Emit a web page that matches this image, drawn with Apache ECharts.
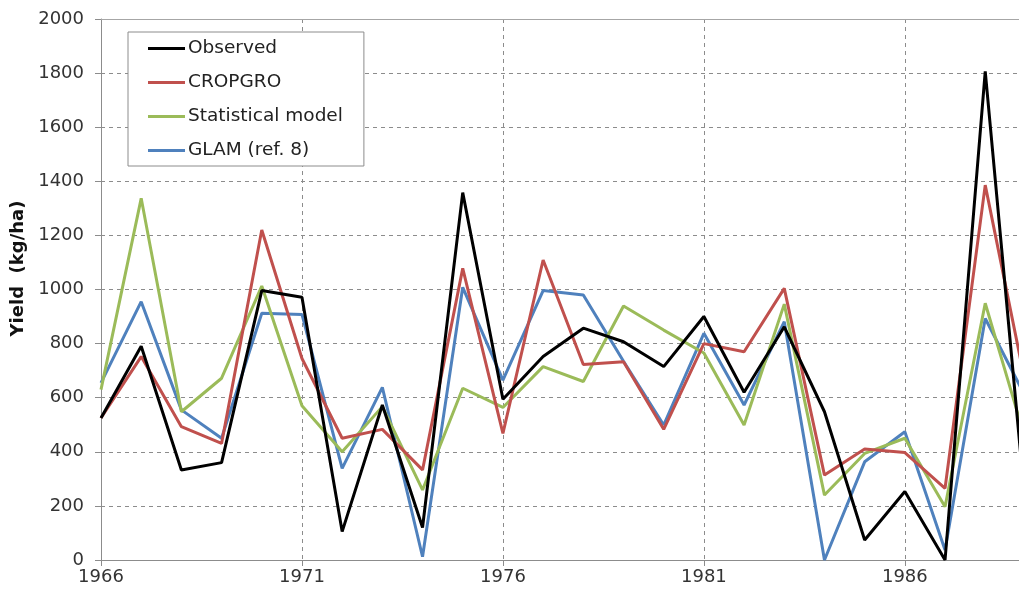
<!DOCTYPE html>
<html>
<head>
<meta charset="utf-8">
<script src="https://cdn.jsdelivr.net/npm/echarts@6/dist/echarts.min.js"></script>
<style>
html,body{margin:0;padding:0;background:#fff;}
#chart{width:1019px;height:594px;}
</style>
</head>
<body>
<div id="chart"></div>
<script>
const years = [1966,1967,1968,1969,1970,1971,1972,1973,1974,1975,1976,1977,1978,1979,1980,1981,1982,1983,1984,1985,1986,1987,1988,1989];
const observed    = [525, 790, 333, 360, 996, 971, 105, 573, 120, 1358, 594, 752, 857, 807, 715, 900, 620, 862, 548, 74, 253, 0, 1806, 200];
const cropgro     = [525, 752, 493, 431, 1220, 745, 450, 483, 333, 1078, 468, 1109, 723, 733, 483, 800, 770, 1004, 314, 410, 397, 265, 1386, 652];
const statistical = [630, 1337, 548, 672, 1013, 570, 400, 567, 259, 635, 564, 715, 660, 939, 850, 765, 499, 946, 240, 394, 450, 197, 949, 445];
const glam        = [655, 955, 555, 450, 912, 908, 339, 638, 12, 1008, 665, 996, 980, 735, 499, 838, 573, 881, 0, 363, 474, 37, 893, 604];
const seriesNames = ['Observed', 'CROPGRO', 'Statistical model', 'GLAM (ref. 8)'];
const seriesData = [observed, cropgro, statistical, glam];
const colors = ['#000000', '#c0504d', '#9bbb59', '#4f81bd'];
// visible x range: the original picture is cut off just before 1989
const xMin = 1966, xMax = 1988.84, xStep = 5;

const chart = echarts.init(document.getElementById('chart'));
const font = 'DejaVu Sans';
chart.setOption({
  animation: false,
  grid: {left: 101, top: 19, bottom: 34, right: 0},
  legend: {
    orient: 'vertical', left: 128, top: 32,
    backgroundColor: '#fff', borderColor: '#8c8c8c', borderWidth: 1,
    padding: [7, 21, 6, 20],
    itemGap: 15, itemWidth: 37, itemHeight: 3,
    icon: 'rect',
    textStyle: {fontFamily: font, fontSize: 18.5, color: '#222', padding: [0,0,0,-2]},
    data: seriesNames
  },
  xAxis: [{
    type: 'value', min: xMin, max: xMax, interval: xStep,
    axisLine: {show: true, lineStyle: {color: '#8c8c8c', width: 1}},
    axisTick: {show: true, length: 6, lineStyle: {color: '#8c8c8c'}},
    axisLabel: {fontFamily: font, fontSize: 18, color: '#333', margin: 8, showMaxLabel: false,
      formatter: v => (v % 1 === 0 ? String(v) : '')},
    splitLine: {show: true, lineStyle: {type: [4, 4], color: '#8c8c8c', width: 1}}
  }, {
    type: 'value', position: 'top', min: xMin, max: xMax, interval: xStep,
    axisLine: {show: true, lineStyle: {color: '#a6a6a6', width: 1}},
    axisTick: {show: false}, axisLabel: {show: false}, splitLine: {show: false}
  }],
  yAxis: {
    type: 'value', min: 0, max: 2000, interval: 200,
    name: 'Yield  (kg/ha)', nameLocation: 'middle', nameGap: 70, nameRotate: 90,
    nameTextStyle: {fontFamily: font, fontSize: 18, fontWeight: 'bold', color: '#111', padding: [0, 0, 0, 42]},
    axisLine: {show: true, lineStyle: {color: '#8c8c8c', width: 1}},
    axisTick: {show: true, length: 6, lineStyle: {color: '#8c8c8c'}},
    axisLabel: {fontFamily: font, fontSize: 18, color: '#333', margin: 17, formatter: v => String(v)},
    splitLine: {show: true, lineStyle: {type: [4, 4], color: '#8c8c8c', width: 1}}
  },
  series: seriesNames.map((n, i) => ({
    name: n, type: 'line', showSymbol: false, symbol: 'none', xAxisIndex: 0,
    data: years.map((y, j) => [y, seriesData[i][j]]),
    lineStyle: {color: colors[i], width: 3},
    itemStyle: {color: colors[i]},
    z: 10 - i
  }))
});
</script>
</body>
</html>
